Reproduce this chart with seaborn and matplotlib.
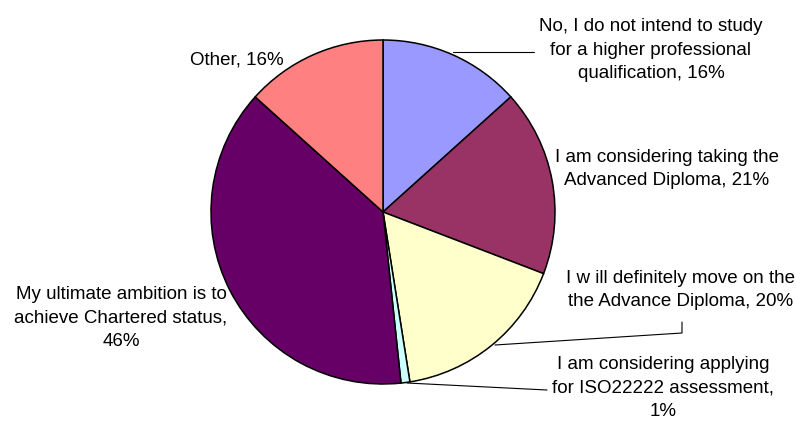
import matplotlib
matplotlib.use("Agg")
import matplotlib.pyplot as plt
import seaborn as sns

# slice data, clockwise from 12 o'clock
categories = [
    "No, I do not intend to study\nfor a higher professional\nqualification",
    "I am considering taking the\nAdvanced Diploma",
    "I w ill definitely move on the\nthe Advance Diploma",
    "I am considering applying\nfor ISO22222 assessment,\n",
    "My ultimate ambition is to\nachieve Chartered status,\n",
    "Other",
]
values = [16, 21, 20, 1, 46, 16]
colors = ["#9999FF", "#993366", "#FFFFCC", "#CCFFFF", "#660066", "#FF8080"]

sns.set_theme(style="white")
plt.rcParams["font.family"] = ["Liberation Sans", "DejaVu Sans"]

W, H = 796, 423
fig = plt.figure(figsize=(W / 100, H / 100), dpi=100)
ax = fig.add_axes([0, 0, 1, 1])

# pie laid out in pixel-like coordinates (y measured from the bottom)
cx, cy, r = 383, H - 212, 172
ax.pie(values, colors=colors, startangle=90, counterclock=False,
       center=(cx, cy), radius=r,
       wedgeprops=dict(edgecolor="black", linewidth=1.1))

ax.set_xlim(0, W)
ax.set_ylim(0, H)
ax.set_aspect("equal")
ax.axis("off")

# label placement (pixel positions of each text block centre)
label_pos = [(651, 50), (667, 169), (681, 290), (663, 388), (121, 318), (237, 60)]
for name, v, (px, py) in zip(categories, values, label_pos):
    sep = "" if name.endswith("\n") else ", "
    txt = f"{name}{sep}{v}%"
    ax.text(px, H - py, txt, ha="center", va="center", fontsize=13.5,
            linespacing=1.5, color="black")

# leader lines
leaders = [
    [(453, 52), (534, 52)],
    [(495, 345), (682, 333), (682, 322)],
    [(407, 383), (547, 390)],
]
for pts in leaders:
    xs = [p[0] for p in pts]
    ys = [H - p[1] for p in pts]
    ax.plot(xs, ys, color="black", lw=0.8)

fig.savefig("out.png", dpi=100)
